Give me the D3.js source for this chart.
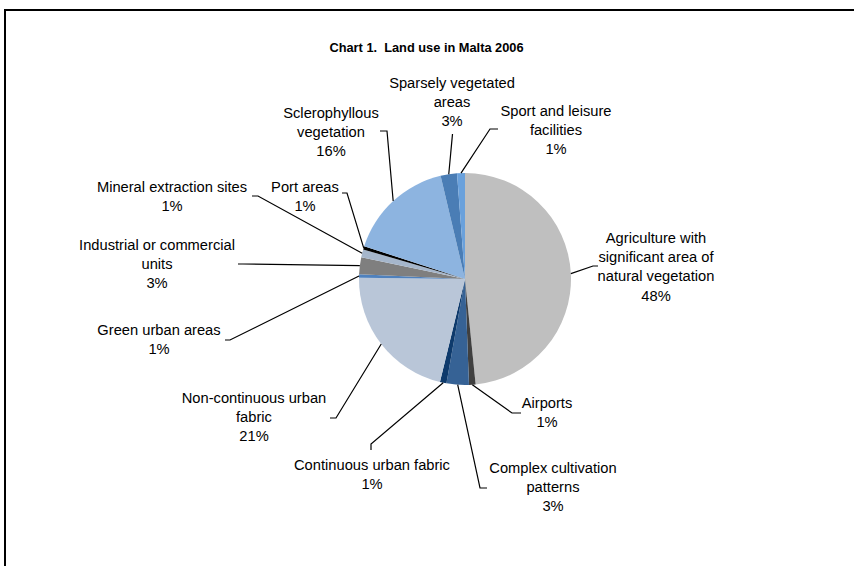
<!DOCTYPE html>
<html>
<head>
<meta charset="utf-8">
<script src="https://cdn.jsdelivr.net/npm/d3@7/dist/d3.min.js"></script>
<style>
  html, body { margin: 0; padding: 0; background: #fff; }
  svg { display: block; }
  text { font-family: "Liberation Sans", Arial, sans-serif; fill: #000; }
</style>
</head>
<body>
<svg id="chart" width="854" height="566"></svg>
<script>
// ---- data ----
const title = "Chart 1.  Land use in Malta 2006";
const categories = [
  "Agriculture with significant area of natural vegetation",
  "Airports",
  "Complex cultivation patterns",
  "Continuous urban fabric",
  "Non-continuous urban fabric",
  "Green urban areas",
  "Industrial or commercial units",
  "Mineral extraction sites",
  "Port areas",
  "Sclerophyllous vegetation",
  "Sparsely vegetated areas",
  "Sport and leisure facilities"
];
const values = [48.4, 1.0, 3.4, 1.0, 21.4, 0.5, 2.6, 1.2, 0.5, 16.3, 2.5, 1.2];
const labelLines = [
  ["Agriculture with", "significant area of", "natural vegetation"],
  ["Airports"],
  ["Complex cultivation", "patterns"],
  ["Continuous urban fabric"],
  ["Non-continuous urban", "fabric"],
  ["Green urban areas"],
  ["Industrial or commercial", "units"],
  ["Mineral extraction sites"],
  ["Port areas"],
  ["Sclerophyllous", "vegetation"],
  ["Sparsely vegetated", "areas"],
  ["Sport and leisure", "facilities"]
];

// ---- styles / layout ----
const colors = ["#bfbfbf", "#404040", "#366295", "#0e3a6c", "#b9c6d8", "#4f81bd",
                "#7f7f7f", "#a5b6cb", "#000000", "#8db4e0", "#4a7db5", "#6aa1dc"];
// label anchor: [centerX, first-line centerY], leader elbow and end
const labelPos = [
  [656, 238], [547, 403], [553, 468], [372, 465], [254, 398], [159, 330],
  [157, 245], [172, 187], [305, 187], [331, 113], [452, 83], [556, 111]
];
const leaderPts = [
  [[593, 266], [598, 266]],
  [[512, 413], [521, 413]],
  [[480, 488], [487, 488]],
  [[371, 444], [371, 450]],
  [[336, 418], [330, 418]],
  [[230, 340], [225, 340]],
  [[243, 264], [238, 264]],
  [[258, 196], [252, 196]],
  [[347, 193], [342, 193]],
  [[387, 131], [380, 131]],
  [[452.5, 134], [452.5, 134]],
  [[490, 129], [498, 129]]
];
const cx = 465, cy = 279, R = 106;
const fontSize = 14.7, lineH = 19.2;

const svg = d3.select("#chart");

// frame
svg.append("path")
  .attr("d", "M5,570 L5,10 L860,10")
  .attr("fill", "none").attr("stroke", "#000").attr("stroke-width", 2);

svg.append("text")
  .attr("x", 426.5).attr("y", 47)
  .attr("text-anchor", "middle").attr("dominant-baseline", "central")
  .attr("xml:space", "preserve")
  .style("white-space", "pre")
  .style("font-weight", "bold").style("font-size", "12.8px")
  .text(title);

const data = categories.map((c, i) => ({ name: c, value: values[i], i }));
const pie = d3.pie().sort(null).value(d => d.value);
const arcs = pie(data);
const arc = d3.arc().innerRadius(0).outerRadius(R);
const edgeArc = d3.arc().innerRadius(R).outerRadius(R);

const g = svg.append("g").attr("transform", `translate(${cx},${cy})`);
g.selectAll("path.slice").data(arcs).enter().append("path")
  .attr("class", "slice")
  .attr("d", arc)
  .attr("fill", d => colors[d.data.i]);

// leader lines
const line = d3.line();
svg.selectAll("path.leader").data(arcs).enter().append("path")
  .attr("class", "leader")
  .attr("d", d => {
    const c = edgeArc.centroid(d);
    const p0 = [cx + c[0], cy + c[1]];
    return line([p0].concat(leaderPts[d.data.i]));
  })
  .attr("fill", "none").attr("stroke", "#000").attr("stroke-width", 1.2);

// labels
arcs.forEach(d => {
  const i = d.data.i;
  const lines = labelLines[i].concat([Math.round(values[i]) + "%"]);
  const t = svg.append("text")
    .attr("text-anchor", "middle")
    .attr("dominant-baseline", "central")
    .style("font-size", fontSize + "px");
  lines.forEach((s, k) => {
    t.append("tspan").attr("x", labelPos[i][0]).attr("y", labelPos[i][1] + k * lineH).text(s);
  });
});
</script>
</body>
</html>
